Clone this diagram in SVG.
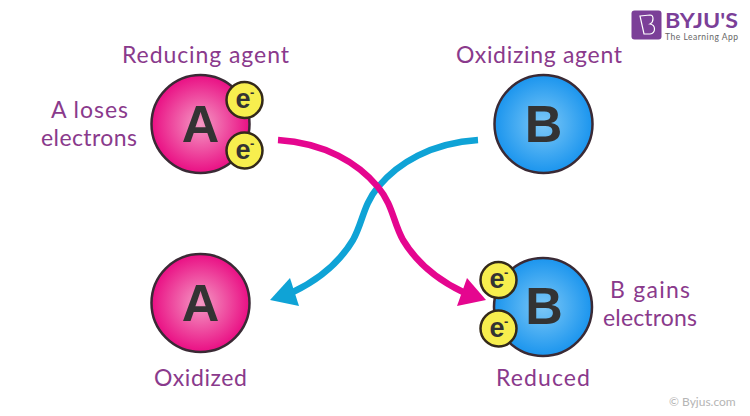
<svg xmlns="http://www.w3.org/2000/svg" width="750" height="416" viewBox="0 0 750 416">
<style>
text{font-family:"Lato","Liberation Sans",Arial,sans-serif}
.lbl{font-size:23px;fill:#8a3a8c;text-anchor:middle}
.big{font-family:"Liberation Sans",Arial,sans-serif;font-weight:700;font-size:52px;fill:#333;text-anchor:middle}
.n{stroke:#3a2a35;stroke-width:2.500}
.el{fill:#f7ee4e;stroke:#33291a;stroke-width:2.500}
.et{font-family:"Liberation Sans",Arial,sans-serif;font-weight:700;font-size:27px;fill:#333;text-anchor:middle}
.em{font-family:"Liberation Sans",Arial,sans-serif;font-weight:700;font-size:13px;fill:#333}
.c{fill:none;stroke-width:6.500}
</style>
<defs>
<radialGradient id="pk"><stop offset="0" stop-color="#f49ac4"/><stop offset="1" stop-color="#ea0f84"/></radialGradient>
<radialGradient id="bl"><stop offset="0" stop-color="#7cc8f7"/><stop offset="1" stop-color="#1b95ee"/></radialGradient>
</defs>
<g id="connectors">
<path class="c" stroke="#0fa3d6" d="M478 140C431 143 398 163 378 187C363 205 363 222 353 240C338 265 316 281 293 292"/>
<polygon fill="#0fa3d6" points="270,300 290,278 299,306"/>
<path class="c" stroke="#e5068f" d="M278 140C325 143 358 163 378 187C393 205 393 222 403 240C418 265 440 281 463 292"/>
<polygon fill="#e5068f" points="486,300 467,278 457,306"/>
</g>
<g id="node-a-top">
<circle class="n" cx="200.500" cy="124" r="49" fill="url(#pk)"/>
<text class="big" x="200.500" y="142">A</text>
<circle class="el" cx="244.500" cy="100" r="18"/><text class="et" x="243" y="108">e</text><text class="em" x="250" y="97">-</text>
<circle class="el" cx="244.500" cy="150.500" r="18"/><text class="et" x="243" y="158.500">e</text><text class="em" x="250" y="147.500">-</text>
</g>
<g id="node-b-top">
<circle class="n" cx="543.500" cy="124" r="49" fill="url(#bl)"/>
<text class="big" x="543.500" y="142">B</text>
</g>
<g id="node-a-bottom">
<circle class="n" cx="200.500" cy="303" r="49" fill="url(#pk)"/>
<text class="big" x="200.500" y="321">A</text>
</g>
<g id="node-b-bottom">
<circle class="n" cx="543" cy="307" r="49" fill="url(#bl)"/>
<text class="big" x="544" y="324">B</text>
<circle class="el" cx="498.500" cy="280" r="18"/><text class="et" x="497" y="288">e</text><text class="em" x="504" y="277">-</text>
<circle class="el" cx="498.500" cy="328.500" r="18"/><text class="et" x="497" y="336.500">e</text><text class="em" x="504" y="325.500">-</text>
</g>
<g id="labels">
<text class="lbl" x="205.500" y="63" textLength="167">Reducing agent</text>
<text class="lbl" x="539" y="63" textLength="166">Oxidizing agent</text>
<text class="lbl" x="89.500" y="118" textLength="77">A loses</text>
<text class="lbl" x="89" y="146" textLength="96">electrons</text>
<text class="lbl" x="650" y="298" textLength="80">B gains</text>
<text class="lbl" x="650" y="325.500" textLength="94">electrons</text>
<text class="lbl" x="200.500" y="386" textLength="93">Oxidized</text>
<text class="lbl" x="543" y="386" textLength="94">Reduced</text>
</g>
<g id="logo">
<rect x="631.500" y="10.500" width="30" height="29" rx="3" fill="#7b3f98"/>
<path d="M640 16L650 15C654 15 654 22 650 24C656 25 656 33 650 34L644 34Z" fill="none" stroke="#fff" stroke-width="1.200"/>
<text x="665" y="27.500" font-size="20" font-weight="700" fill="#7b3f98" font-family="Liberation Sans,Arial,sans-serif" textLength="73" lengthAdjust="spacingAndGlyphs">BYJU'S</text>
<text x="665" y="39.500" font-size="8.500" fill="#666" font-family="Liberation Sans,Arial,sans-serif" textLength="73">The Learning App</text>
</g>
<text x="669" y="405.500" font-size="12" fill="#b5b5b5" font-family="Liberation Sans,Arial,sans-serif">© Byjus.com</text>
</svg>
